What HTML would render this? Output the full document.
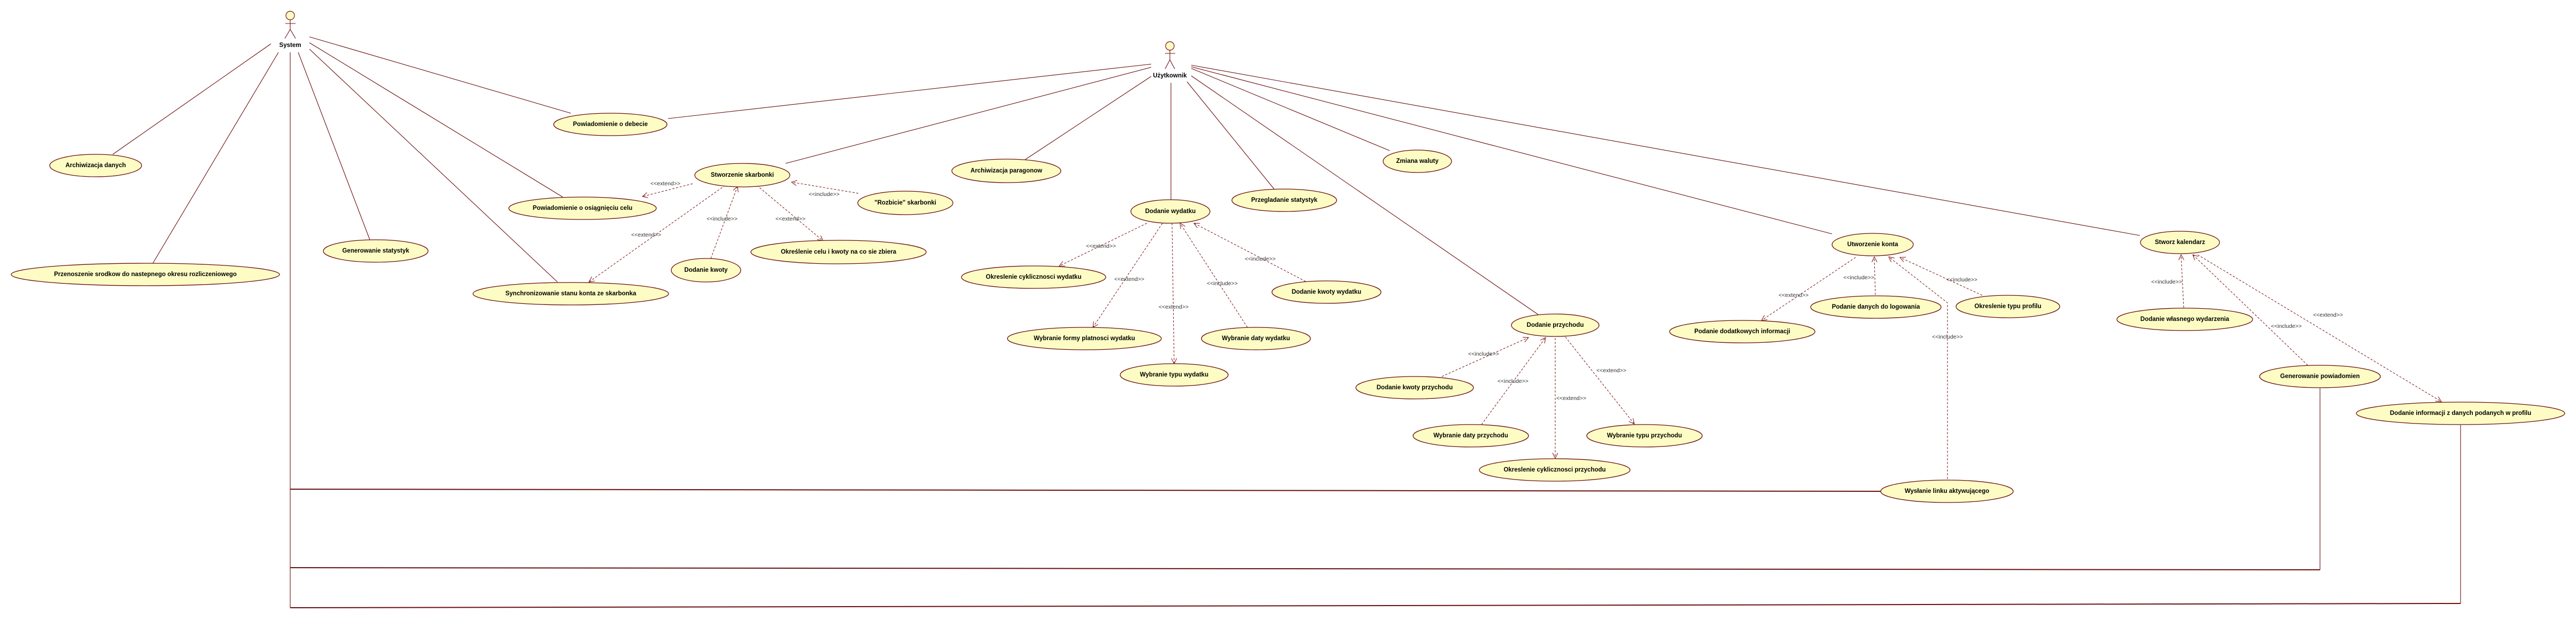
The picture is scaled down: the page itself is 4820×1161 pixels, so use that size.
<!DOCTYPE html>
<html><head><meta charset="utf-8"><style>
html,body{margin:0;padding:0;background:#fff;}
svg{display:block;}
.u{fill:#fdfcc4;stroke:#6b0f0f;stroke-width:1.3;}
.t{font-family:"Liberation Sans",sans-serif;font-weight:bold;font-size:11.5px;fill:#000;text-anchor:middle;dominant-baseline:central;}
.s{font-family:"Liberation Sans",sans-serif;font-size:10.5px;fill:#333;text-anchor:middle;dominant-baseline:central;}
.a{stroke:#6b0f0f;stroke-width:1.1;fill:none;}
.b{stroke:#6b0f0f;stroke-width:2;fill:none;}
.d{stroke:#7a1010;stroke-width:1;fill:none;stroke-dasharray:4,3;}
</style></head><body>
<svg width="4820" height="1161" viewBox="0 0 4820 1161" xmlns="http://www.w3.org/2000/svg">
<defs>
<marker id="ar" markerWidth="12" markerHeight="12" refX="11" refY="5" orient="auto" markerUnits="userSpaceOnUse">
<path d="M1,0 L11,5 L1,10" fill="none" stroke="#7a1010" stroke-width="1"/>
</marker>
</defs>

<!-- System actor -->
<circle cx="543" cy="29" r="8" fill="#fdfcc4" stroke="#7a1010" stroke-width="1.2"/>
<line x1="543" y1="37" x2="543" y2="55" class="a"/>
<line x1="534" y1="44" x2="553" y2="44" class="a"/>
<line x1="543" y1="55" x2="533" y2="72" class="a"/>
<line x1="543" y1="55" x2="553" y2="72" class="a"/>
<text x="543" y="85" class="t">System</text>

<!-- Użytkownik actor -->
<circle cx="2189" cy="86" r="8" fill="#fdfcc4" stroke="#7a1010" stroke-width="1.2"/>
<line x1="2189" y1="94" x2="2189" y2="112" class="a"/>
<line x1="2180" y1="100" x2="2199" y2="100" class="a"/>
<line x1="2189" y1="112" x2="2180" y2="129" class="a"/>
<line x1="2189" y1="112" x2="2198" y2="129" class="a"/>
<text x="2189" y="142" class="t">Użytkownik</text>

<!-- System associations -->
<line x1="579" y1="69" x2="1068" y2="212" class="a"/>
<line x1="507" y1="82" x2="211" y2="289" class="a"/>
<line x1="521" y1="98" x2="286" y2="493" class="a"/>
<line x1="558" y1="98" x2="692" y2="449" class="a"/>
<line x1="579" y1="92" x2="1043" y2="528" class="a"/>
<line x1="579" y1="80" x2="1053" y2="369" class="a"/>
<line x1="543" y1="98" x2="543" y2="1138" class="a"/>
<line x1="543" y1="916" x2="3520" y2="920" class="b"/>
<line x1="543" y1="1063" x2="4341" y2="1067" class="b"/>
<line x1="4341" y1="727" x2="4341" y2="1067" class="a"/>
<line x1="543" y1="1138" x2="4604" y2="1130" class="b"/>
<line x1="4604" y1="796" x2="4604" y2="1130" class="a"/>

<!-- Użytkownik associations -->
<line x1="2154" y1="120" x2="1250" y2="222" class="a"/>
<line x1="2154" y1="126" x2="1470" y2="306" class="a"/>
<line x1="2154" y1="143" x2="1918" y2="299" class="a"/>
<line x1="2191" y1="155" x2="2191" y2="374" class="a"/>
<line x1="2221" y1="153" x2="2384" y2="354" class="a"/>
<line x1="2229" y1="128" x2="2600" y2="282" class="a"/>
<line x1="2229" y1="142" x2="2878" y2="589" class="a"/>
<line x1="2229" y1="125" x2="3428" y2="438" class="a"/>
<line x1="2229" y1="122" x2="4004" y2="441" class="a"/>

<!-- Dashed dependencies -->
<line x1="1296" y1="344" x2="1202" y2="368" class="d" marker-end="url(#ar)"/>
<line x1="1357" y1="347" x2="1102" y2="528" class="d" marker-end="url(#ar)"/>
<line x1="1330" y1="484" x2="1380" y2="349" class="d" marker-end="url(#ar)"/>
<line x1="1416" y1="347" x2="1540" y2="451" class="d" marker-end="url(#ar)"/>
<line x1="1606" y1="362" x2="1481" y2="341" class="d" marker-end="url(#ar)"/>

<line x1="2146" y1="418" x2="1982" y2="498" class="d" marker-end="url(#ar)"/>
<line x1="2175" y1="418" x2="2045" y2="613" class="d" marker-end="url(#ar)"/>
<line x1="2193" y1="418" x2="2197" y2="681" class="d" marker-end="url(#ar)"/>
<line x1="2334" y1="613" x2="2208" y2="418" class="d" marker-end="url(#ar)"/>
<line x1="2443" y1="527" x2="2234" y2="418" class="d" marker-end="url(#ar)"/>

<line x1="2698" y1="705" x2="2860" y2="632" class="d" marker-end="url(#ar)"/>
<line x1="2772" y1="795" x2="2892" y2="632" class="d" marker-end="url(#ar)"/>
<line x1="2910" y1="633" x2="2910" y2="858" class="d" marker-end="url(#ar)"/>
<line x1="2929" y1="631" x2="3058" y2="794" class="d" marker-end="url(#ar)"/>

<line x1="3472" y1="482" x2="3296" y2="600" class="d" marker-end="url(#ar)"/>
<line x1="3509" y1="552" x2="3507" y2="481" class="d" marker-end="url(#ar)"/>
<line x1="3709" y1="553" x2="3555" y2="482" class="d" marker-end="url(#ar)"/>
<polyline points="3644,904 3644,567 3534,481" class="d" marker-end="url(#ar)"/>

<line x1="4086" y1="576" x2="4081" y2="477" class="d" marker-end="url(#ar)"/>
<line x1="4318" y1="684" x2="4103" y2="477" class="d" marker-end="url(#ar)"/>
<line x1="4112" y1="477" x2="4568" y2="752" class="d" marker-end="url(#ar)"/>

<!-- Stereotype labels -->
<text x="1245" y="344" class="s">&lt;&lt;extend&gt;&gt;</text>
<text x="1209" y="440" class="s">&lt;&lt;extend&gt;&gt;</text>
<text x="1351" y="410" class="s">&lt;&lt;include&gt;&gt;</text>
<text x="1479" y="410" class="s">&lt;&lt;extend&gt;&gt;</text>
<text x="1542" y="364" class="s">&lt;&lt;include&gt;&gt;</text>
<text x="2060" y="461" class="s">&lt;&lt;extend&gt;&gt;</text>
<text x="2113" y="523" class="s">&lt;&lt;extend&gt;&gt;</text>
<text x="2196" y="575" class="s">&lt;&lt;extend&gt;&gt;</text>
<text x="2287" y="531" class="s">&lt;&lt;include&gt;&gt;</text>
<text x="2358" y="485" class="s">&lt;&lt;include&gt;&gt;</text>
<text x="2776" y="663" class="s">&lt;&lt;include&gt;&gt;</text>
<text x="2831" y="714" class="s">&lt;&lt;include&gt;&gt;</text>
<text x="2940" y="746" class="s">&lt;&lt;extend&gt;&gt;</text>
<text x="3015" y="694" class="s">&lt;&lt;extend&gt;&gt;</text>
<text x="3356" y="553" class="s">&lt;&lt;extend&gt;&gt;</text>
<text x="3478" y="520" class="s">&lt;&lt;include&gt;&gt;</text>
<text x="3671" y="524" class="s">&lt;&lt;include&gt;&gt;</text>
<text x="3644" y="631" class="s">&lt;&lt;include&gt;&gt;</text>
<text x="4054" y="528" class="s">&lt;&lt;include&gt;&gt;</text>
<text x="4278" y="611" class="s">&lt;&lt;include&gt;&gt;</text>
<text x="4356" y="590" class="s">&lt;&lt;extend&gt;&gt;</text>

<!-- Use cases -->
<ellipse cx="179" cy="310" rx="86" ry="21" class="u"/><text x="179" y="310" class="t">Archiwizacja danych</text>
<ellipse cx="272" cy="514" rx="251" ry="21" class="u"/><text x="272" y="514" class="t">Przenoszenie srodkow do nastepnego okresu rozliczeniowego</text>
<ellipse cx="703" cy="470" rx="98" ry="21" class="u"/><text x="703" y="470" class="t">Generowanie statystyk</text>
<ellipse cx="1142" cy="233" rx="106" ry="21" class="u"/><text x="1142" y="233" class="t">Powiadomienie o debecie</text>
<ellipse cx="1090" cy="390" rx="138" ry="21" class="u"/><text x="1090" y="390" class="t">Powiadomienie o osiągnięciu celu</text>
<ellipse cx="1068" cy="550" rx="183" ry="21" class="u"/><text x="1068" y="550" class="t">Synchronizowanie stanu konta ze skarbonka</text>
<ellipse cx="1389" cy="328" rx="89" ry="22" class="u"/><text x="1389" y="328" class="t">Stworzenie skarbonki</text>
<ellipse cx="1694" cy="380" rx="89" ry="22" class="u"/><text x="1694" y="380" class="t">"Rozbicie" skarbonki</text>
<ellipse cx="1321" cy="506" rx="65" ry="22" class="u"/><text x="1321" y="506" class="t">Dodanie kwoty</text>
<ellipse cx="1569" cy="472" rx="164" ry="22" class="u"/><text x="1569" y="472" class="t">Określenie celu i kwoty na co sie zbiera</text>
<ellipse cx="1883" cy="320" rx="102" ry="22" class="u"/><text x="1883" y="320" class="t">Archiwizacja paragonow</text>
<ellipse cx="2190" cy="396" rx="74" ry="22" class="u"/><text x="2190" y="396" class="t">Dodanie wydatku</text>
<ellipse cx="2403" cy="375" rx="98" ry="21" class="u"/><text x="2403" y="375" class="t">Przegladanie statystyk</text>
<ellipse cx="2652" cy="302" rx="64" ry="21" class="u"/><text x="2652" y="302" class="t">Zmiana waluty</text>
<ellipse cx="1934" cy="519" rx="135" ry="21" class="u"/><text x="1934" y="519" class="t">Okreslenie cyklicznosci wydatku</text>
<ellipse cx="2482" cy="547" rx="102" ry="21" class="u"/><text x="2482" y="547" class="t">Dodanie kwoty wydatku</text>
<ellipse cx="2029" cy="634" rx="144" ry="21" class="u"/><text x="2029" y="634" class="t">Wybranie formy platnosci wydatku</text>
<ellipse cx="2350" cy="634" rx="102" ry="21" class="u"/><text x="2350" y="634" class="t">Wybranie daty wydatku</text>
<ellipse cx="2197" cy="702" rx="101" ry="21" class="u"/><text x="2197" y="702" class="t">Wybranie typu wydatku</text>
<ellipse cx="2910" cy="609" rx="82" ry="21" class="u"/><text x="2910" y="609" class="t">Dodanie przychodu</text>
<ellipse cx="2647" cy="726" rx="110" ry="21" class="u"/><text x="2647" y="726" class="t">Dodanie kwoty przychodu</text>
<ellipse cx="2752" cy="816" rx="108" ry="21" class="u"/><text x="2752" y="816" class="t">Wybranie daty przychodu</text>
<ellipse cx="3077" cy="816" rx="108" ry="21" class="u"/><text x="3077" y="816" class="t">Wybranie typu przychodu</text>
<ellipse cx="2909" cy="880" rx="141" ry="21" class="u"/><text x="2909" y="880" class="t">Okreslenie cyklicznosci przychodu</text>
<ellipse cx="3504" cy="458" rx="76" ry="21" class="u"/><text x="3504" y="458" class="t">Utworzenie konta</text>
<ellipse cx="3510" cy="575" rx="122" ry="21" class="u"/><text x="3510" y="575" class="t">Podanie danych do logowania</text>
<ellipse cx="3757" cy="574" rx="97" ry="21" class="u"/><text x="3757" y="574" class="t">Okreslenie typu profilu</text>
<ellipse cx="3260" cy="621" rx="136" ry="21" class="u"/><text x="3260" y="621" class="t">Podanie dodatkowych informacji</text>
<ellipse cx="3643" cy="920" rx="124" ry="21" class="u"/><text x="3643" y="920" class="t">Wysłanie linku aktywującego</text>
<ellipse cx="4079" cy="454" rx="74" ry="21" class="u"/><text x="4079" y="454" class="t">Stworz kalendarz</text>
<ellipse cx="4088" cy="598" rx="127" ry="21" class="u"/><text x="4088" y="598" class="t">Dodanie własnego wydarzenia</text>
<ellipse cx="4341" cy="705" rx="113" ry="21" class="u"/><text x="4341" y="705" class="t">Generowanie powiadomien</text>
<ellipse cx="4604" cy="774" rx="195" ry="21" class="u"/><text x="4604" y="774" class="t">Dodanie informacji z danych podanych w profilu</text>
</svg>
</body></html>
